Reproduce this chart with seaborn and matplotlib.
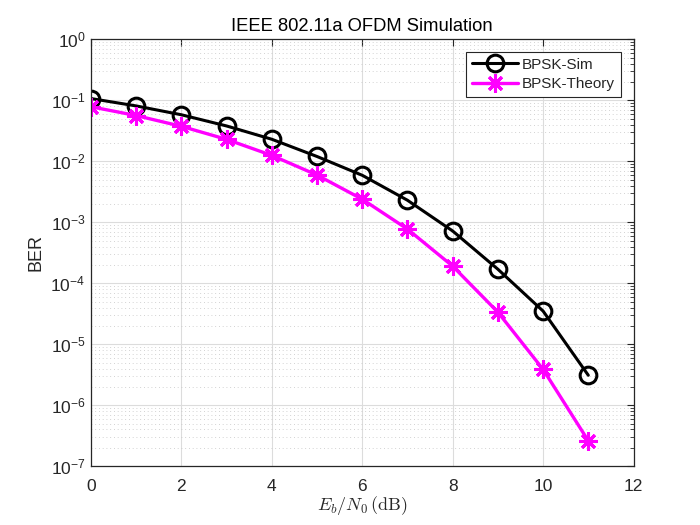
import numpy as np
import pandas as pd
import matplotlib
matplotlib.use("Agg")
import matplotlib.pyplot as plt
import matplotlib.ticker as mticker
import seaborn as sns

# values
ebn0_db = [0, 1, 2, 3, 4, 5, 6, 7, 8, 9, 10, 11]
ber_sim = [1.07e-1, 8.1e-2, 5.8e-2, 3.8e-2, 2.3e-2, 1.2e-2, 5.9e-3,
           2.3e-3, 7.2e-4, 1.7e-4, 3.5e-5, 3.1e-6]
ber_theory = [7.86e-2, 5.63e-2, 3.75e-2, 2.29e-2, 1.25e-2, 5.95e-3, 2.39e-3,
              7.73e-4, 1.91e-4, 3.36e-5, 3.87e-6, 2.61e-7]
y_decades = [1e-7, 1e-6, 1e-5, 1e-4, 1e-3, 1e-2, 1e-1, 1e0]

sns.set_style("white")
plt.rcParams["font.family"] = ["Liberation Sans", "DejaVu Sans"]
plt.rcParams["mathtext.fontset"] = "custom"
plt.rcParams["mathtext.rm"] = "Liberation Sans"
plt.rcParams["mathtext.it"] = "Liberation Sans:italic"

df = pd.DataFrame({"ebn0": ebn0_db, "sim": ber_sim, "theory": ber_theory})

fig = plt.figure(figsize=(7, 5.25), dpi=100)
ax = fig.add_axes([0.13, 0.112, 0.775, 0.813])

sns.lineplot(data=df, x="ebn0", y="sim", ax=ax, color="black", linewidth=2.2,
             marker="o", markersize=12, markerfacecolor="none",
             markeredgecolor="black", markeredgewidth=2.2, label="BPSK-Sim")
sns.lineplot(data=df, x="ebn0", y="theory", ax=ax, color="#ff00ff", linewidth=2.4,
             marker=(8, 2, 0), markersize=13, markeredgecolor="#ff00ff",
             markeredgewidth=2.2, label="BPSK-Theory")

ax.set_yscale("log")
ax.set_xlim(0, 12)
ax.set_ylim(1e-7, 1e0)
ax.set_xticks(np.arange(0, 13, 2))
ax.yaxis.set_major_locator(mticker.FixedLocator(y_decades))
ax.yaxis.set_major_formatter(mticker.LogFormatterSciNotation())
minor = [d * k for d in y_decades[:-1] for k in range(2, 10)]
ax.yaxis.set_minor_locator(mticker.FixedLocator(minor))
ax.yaxis.set_minor_formatter(mticker.NullFormatter())

ax.grid(True, which="major", color="#dcdcdc", linewidth=0.8, linestyle="-")
ax.grid(True, which="minor", axis="y", color="#c4c4c4", linewidth=0.6, linestyle=(0, (1, 3.5)))
ax.set_axisbelow(True)

ax.tick_params(which="both", direction="in", top=True, right=True,
               labelsize=12.5, colors="#262626")
ax.tick_params(which="major", length=5, width=0.8)
ax.tick_params(which="minor", length=3, width=0.6)
ax.tick_params(axis="x", pad=9)
ax.tick_params(axis="y", pad=4)
for s in ax.spines.values():
    s.set_color("#262626")
    s.set_linewidth(0.9)

ax.set_title("IEEE 802.11a OFDM Simulation", fontsize=13.2, color="black", pad=6)
ax.set_ylabel("BER", fontsize=13, color="#262626", labelpad=4)
ax.set_xlabel(r"$E_b/N_0\,(\mathrm{dB})$", fontsize=13, math_fontfamily="cm",
              color="#262626", labelpad=0)

leg = ax.legend(loc="upper right", fontsize=11, frameon=True, fancybox=False,
                edgecolor="#262626", framealpha=1, borderaxespad=0.8,
                handlelength=3.0, handletextpad=0.3, borderpad=0.4,
                labelspacing=0.35)
leg.get_frame().set_linewidth(0.8)

fig.savefig("out.png", dpi=100)
